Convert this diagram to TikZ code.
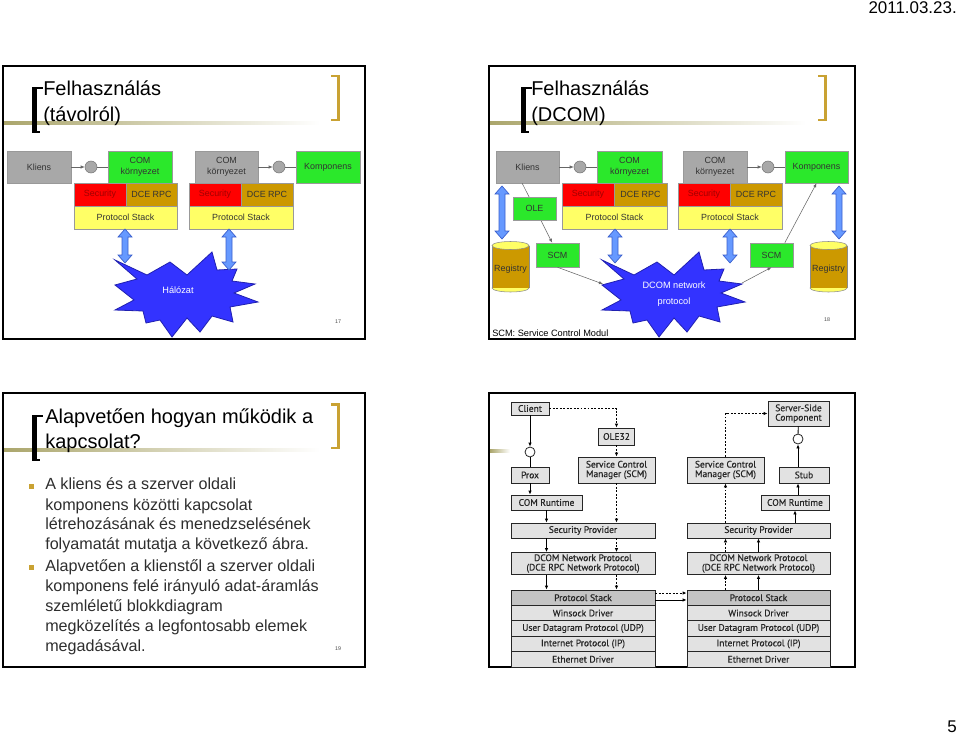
\documentclass[tikz,border=0pt]{standalone}
\usepackage{fontspec}
\setmainfont{Liberation Sans}
\newfontfamily\diagfont[FakeBold=0.5]{PT Sans}
\usetikzlibrary{arrows.meta}
\definecolor{boxgray}{HTML}{A8A8A8}
\definecolor{comgreen}{HTML}{2BE82B}
\definecolor{secred}{HTML}{FF0000}
\definecolor{sectext}{HTML}{A00000}
\definecolor{dcegold}{HTML}{CC9900}
\definecolor{stackyellow}{HTML}{FFFF66}
\definecolor{arrowblue}{HTML}{6699FF}
\definecolor{arrowedge}{HTML}{3A5FCD}
\definecolor{burstblue}{HTML}{3333FF}
\definecolor{burstedge}{HTML}{2020B0}
\definecolor{titlegold}{HTML}{C9A233}
\definecolor{lineolive}{HTML}{ABA66C}
\definecolor{msgray}{HTML}{E2E2E2}
\definecolor{msdark}{HTML}{C4C4C4}
\newcommand{\titlebrackets}[3]{% left x, right x, top y
  \fill (#1,#3) rectangle ++(4.5,46);
  \fill (#1,#3) rectangle ++(11,2);
  \fill (#1,#3+46) rectangle ++(8,-2.5);
  \fill[titlegold] (#2,#3-12) rectangle ++(-3.5,46);
  \fill[titlegold] (#2,#3-12) rectangle ++(-9,2.5);
  \fill[titlegold] (#2,#3+34) rectangle ++(-9,-2.5);
}
\newcommand{\dblarrow}[3]{% x, top y, bottom y
  \filldraw[fill=arrowblue, draw=arrowedge, line width=0.5pt]
    (#1,#2) -- ++(7,8) -- ++(-4,0) -- (#1+3,#3-8) -- ++(4,0) -- (#1,#3)
    -- ++(-7,-8) -- ++(4,0) -- (#1-3,#2+8) -- ++(-4,0) -- cycle;
}
\newcommand{\registry}[2]{% name, x
  \filldraw[fill=stackyellow, draw=black!45] (#2,288) ellipse [x radius=18.5, y radius=4];
  \fill[dcegold] (#2-18.5,245.5) rectangle (#2+18.5,288);
  \draw[black!45] (#2-18.5,245.5) -- (#2-18.5,288) (#2+18.5,245.5) -- (#2+18.5,288);
  \filldraw[fill=stackyellow, draw=black!45] (#2,245.5) ellipse [x radius=18.5, y radius=4];
  \node[boxtext] (#1) at (#2,269) {Registry};
}
\tikzset{
slide frame/.style={draw=black, line width=1.1pt},
title rule/.style={left color=lineolive, right color=white},
title/.style={anchor=base west, inner sep=0pt, font=\fontsize{15}{18}\selectfont},
wh/.style 2 args={minimum width=#1*0.75pt, minimum height=#2*0.75pt},
boxtext/.style={inner sep=0pt, align=center, text=black!80, font=\fontsize{6.7}{8.2}\selectfont},
box/.style={boxtext, draw=black!40, line width=0.4pt},
graybox/.style={box, fill=boxgray},
greenbox/.style={box, fill=comgreen},
secbox/.style={box, fill=secred, text=sectext},
dcebox/.style={box, fill=dcegold},
stackbox/.style={box, fill=stackyellow},
iface/.style={circle, draw=black!55, fill=boxgray, minimum size=12*0.75pt, inner sep=0pt},
thin line/.style={draw=black!60, line width=0.4pt},
thin arrow/.style={thin line, -{Latex[length=3pt,width=2.4pt]}},
burst text/.style={inner sep=0pt, align=center, text=white, font=\fontsize{6.9}{12}\selectfont},
pagenum/.style={inner sep=0pt, font=\fontsize{4}{5}\selectfont, text=black!70},
bullet line/.style={anchor=base west, inner sep=0pt, text=black!82, font=\fontsize{12.1}{14}\selectfont},
bullet mark/.style={fill=titlegold, minimum size=5*0.75pt, inner sep=0pt},
msbox/.style={draw=black!85, line width=0.6pt, fill=msgray, inner sep=0pt, align=center,
  text=black!85, font=\diagfont\fontsize{7.1}{7.1}\selectfont},
msport/.style={circle, draw=black!85, line width=0.6pt, fill=white, minimum size=10*0.75pt, inner sep=0pt},
msline/.style={draw=black, line width=0.65pt},
msarrow/.style={msline, -{Latex[length=3pt,width=2.6pt]}},
msdots/.style={msarrow, dash pattern=on 1.4pt off 1.2pt},
burst/.pic={
  \filldraw[fill=burstblue, draw=burstedge, line width=0.6pt]
    (-71,-34) -- (-39,-19) -- (-16,-32) -- (1,-19) -- (26,-42) -- (31,-24)
    -- (51,-25) -- (46,-13) -- (69,-10) -- (48,-1) -- (72,8) -- (44,13)
    -- (47,28) -- (26,22) -- (14,38) -- (1,24) -- (-14,43) -- (-26,26)
    -- (-40,29) -- (-43,17) -- (-71,16) -- (-52,6) -- (-71,-9) -- (-49,-15) -- cycle;
},
}
\begin{document}
\begin{tikzpicture}[x=0.75pt,y=-0.75pt]
\useasboundingbox (0,0) rectangle (960,735);
\fill[white] (0,0) rectangle (960,735);
\node[anchor=base east, inner sep=0pt, font=\fontsize{12.7}{14}\selectfont] (date) at (957,14) {2011.03.23.};
\node[anchor=base east, inner sep=0pt, font=\fontsize{12.7}{14}\selectfont] (page) at (957,732) {5};

% slide 17
\draw[slide frame] (3,66) rectangle (365,339);
\shade[title rule] (4,121.5) rectangle (320,124.5);
\titlebrackets{32}{340}{87}
\node[title] (t17a) at (43,95) {Felhasználás};
\node[title] (t17b) at (43,121) {(távolról)};
\node[graybox, wh={64}{32}] (kliens17) at (39,167) {Kliens};
\node[iface] (if17a) at (91,167) {};
\node[greenbox, wh={64}{32}] (com17a) at (140,167) {COM\\környezet};
\node[secbox, wh={52}{23}] (sec17a) at (100,194.5) {Security};
\node[dcebox, wh={51}{23}] (dce17a) at (151.5,194.5) {DCE RPC};
\node[stackbox, wh={103}{23}] (ps17a) at (125.5,217.5) {Protocol Stack};
\node[graybox, wh={63}{32}] (com17b) at (226.5,167) {COM\\környezet};
\node[iface] (if17b) at (279,167) {};
\node[greenbox, wh={64}{32}] (komp17) at (328,167) {Komponens};
\node[secbox, wh={52}{23}] (sec17b) at (215,194.5) {Security};
\node[dcebox, wh={52}{23}] (dce17b) at (267,194.5) {DCE RPC};
\node[stackbox, wh={104}{23}] (ps17b) at (241,217.5) {Protocol Stack};
\draw[thin arrow] (kliens17) -- (if17a);
\draw[thin line] (if17a) -- (com17a);
\draw[thin arrow] (com17b) -- (if17b);
\draw[thin line] (if17b) -- (komp17);
\pic at (186,294) {burst};
\node[burst text] (net17) at (178,290) {Hálózat};
\dblarrow{125}{229}{263}
\dblarrow{229}{229}{270}
\node[pagenum] (n17) at (338,322) {17};

% slide 18
\draw[slide frame] (489,66) rectangle (855,339);
\shade[title rule] (490,121.5) rectangle (806,124.5);
\titlebrackets{521}{827}{87}
\node[title] (t18a) at (531,95) {Felhasználás};
\node[title] (t18b) at (531,121) {(DCOM)};
\node[graybox, wh={63}{32}] (kliens18) at (527.5,167) {Kliens};
\node[greenbox, wh={43}{24}] (scm18a) at (557.5,255) {SCM};
\node[greenbox, wh={43}{24}] (scm18b) at (771.5,255) {SCM};
\draw[thin arrow] ([xshift=-4pt]kliens18.south) -- ([xshift=-4pt]scm18a.north);
\node[greenbox, wh={43}{23}] (ole18) at (534.5,208.5) {OLE};
\node[iface] (if18a) at (580,167) {};
\node[greenbox, wh={65}{32}] (com18a) at (629.5,167) {COM\\környezet};
\node[secbox, wh={52}{23}] (sec18a) at (588,194.5) {Security};
\node[dcebox, wh={53}{23}] (dce18a) at (640.5,194.5) {DCE RPC};
\node[stackbox, wh={105}{23}] (ps18a) at (614.5,217.5) {Protocol Stack};
\node[graybox, wh={64}{32}] (com18b) at (715,167) {COM\\környezet};
\node[iface] (if18b) at (768,167) {};
\node[greenbox, wh={63}{32}] (komp18) at (816.5,167) {Komponens};
\node[secbox, wh={52}{23}] (sec18b) at (704,194.5) {Security};
\node[dcebox, wh={52}{23}] (dce18b) at (756,194.5) {DCE RPC};
\node[stackbox, wh={104}{23}] (ps18b) at (730,217.5) {Protocol Stack};
\draw[thin arrow] (kliens18) -- (if18a);
\draw[thin line] (if18a) -- (com18a);
\draw[thin arrow] (com18b) -- (if18b);
\draw[thin line] (if18b) -- (komp18);
\registry{reg18a}{510.5}
\registry{reg18b}{828.5}
\pic at (673,294) {burst};
\node[burst text] (net18) at (674,294) {DCOM network\\protocol};
\coordinate (in18) at (603,284);
\coordinate (out18) at (742,283);
\draw[thin arrow] (scm18a.south) -- (in18);
\draw[thin arrow] (out18) -- (scm18b.south);
\draw[thin arrow] ([xshift=10pt]scm18b.north) -- (komp18.south);
\dblarrow{502}{186}{239}
\dblarrow{839}{186}{239}
\dblarrow{615}{229}{263}
\dblarrow{730}{229}{263}
\node[anchor=base west, inner sep=0pt, font=\fontsize{6.9}{8}\selectfont] (scmnote) at (492,336) {SCM: Service Control Modul};
\node[pagenum] (n18) at (827,320) {18};

% slide 19
\draw[slide frame] (3,393) rectangle (365,667);
\shade[title rule] (4,448.5) rectangle (320,451.5);
\titlebrackets{32}{340}{415}
\node[title] (t19a) at (45,423) {Alapvetően hogyan működik a};
\node[title] (t19b) at (45,448) {kapcsolat?};
\foreach \yy in {486,567}
  \node[bullet mark] (mark\yy) at (31,\yy) {};
\foreach \yy/\txt in {489/A kliens és a szerver oldali,510/komponens közötti kapcsolat,
    529/létrehozásának és menedzselésének,549/folyamatát mutatja a következő ábra.,
    571/Alapvetően a klienstől a szerver oldali,591/komponens felé irányuló adat-áramlás,
    611/szemléletű blokkdiagram,631/megközelítés a legfontosabb elemek,651/megadásával.}
  \node[bullet line] (line\yy) at (45,\yy) {\txt};
\node[pagenum] (n19) at (338,649) {19};

% slide 20
\draw[slide frame] (489,393) rectangle (855,667);
\shade[title rule] (490,449.5) rectangle (510,452);
\node[msbox, wh={38}{13}] (client) at (530,408.5) {Client};
\node[msbox, wh={61}{25}] (ssc) at (798.5,413.5) {Server-Side\\Component};
\node[msbox, wh={36}{17}] (ole32) at (616.5,436.5) {OLE32};
\node[msport] (port1) at (530,452) {};
\node[msport] (port2) at (798,439) {};
\node[msbox, wh={38}{16}] (prox) at (530,475) {Prox};
\node[msbox, wh={77}{26}] (scmL) at (616.5,470) {Service Control\\Manager (SCM)};
\node[msbox, wh={77}{26}] (scmR) at (725.5,470) {Service Control\\Manager (SCM)};
\node[msbox, wh={50}{16}] (stub) at (804,475) {Stub};
\node[msbox, wh={71}{15}] (comrtL) at (546.5,502.5) {COM Runtime};
\node[msbox, wh={68}{15}] (comrtR) at (795,502.5) {COM Runtime};
\node[msbox, wh={144}{15}] (secpL) at (583,530.5) {Security Provider};
\node[msbox, wh={143}{15}] (secpR) at (758.5,530.5) {Security Provider};
\node[msbox, wh={144}{22}] (dcomL) at (583,563.5) {DCOM Network Protocol\\(DCE RPC Network Protocol)};
\node[msbox, wh={143}{22}] (dcomR) at (758.5,563.5) {DCOM Network Protocol\\(DCE RPC Network Protocol)};
\foreach \i/\txt/\tone in {0/Protocol Stack/msdark,1/Winsock Driver/msgray,
    2/User Datagram Protocol (UDP)/msgray,3/Internet Protocol (IP)/msgray,4/Ethernet Driver/msgray} {
  \node[msbox, fill=\tone, wh={144}{15.4}] (stkL\i) at (583,597.7+15.4*\i) {\txt};
  \node[msbox, fill=\tone, wh={143}{15.4}] (stkR\i) at (758.5,597.7+15.4*\i) {\txt};
}
\draw[msarrow] (client) -- (port1);
\draw[msline] (port1) -- (prox);
\draw[msarrow] (prox) -- (prox |- comrtL.north);
\draw[msarrow] (comrtL) -- (comrtL |- secpL.north);
\draw[msarrow] (secpL.south -| comrtL) -- (dcomL.north -| comrtL);
\draw[msarrow] (dcomL.south -| comrtL) -- (stkL0.north -| comrtL);
\draw[msdots] (client.east) -| (ole32.north);
\draw[msdots] (ole32) -- (scmL);
\draw[msdots] (scmL.south) -- (scmL |- secpL.north);
\draw[msdots] (secpL.south -| scmL) -- (dcomL.north -| scmL);
\draw[msdots] (dcomL.south -| scmL) -- (stkL0.north -| scmL);
\draw[msdots] ([yshift=3.5pt]stkL0.east) -- ([yshift=3.5pt]stkR0.west);
\draw[msarrow] ([yshift=-1.7pt]stkL0.east) -- ([yshift=-1.7pt]stkR0.west);
\draw[msdots] (stkR0.north -| scmR) -- (dcomR.south -| scmR);
\draw[msdots] (dcomR.north -| scmR) -- (secpR.south -| scmR);
\draw[msdots] (secpR.north -| scmR) -- (scmR.south);
\draw[msdots] (scmR.north) |- (ssc.west);
\draw[msarrow] (stkR0.north -| secpR) -- (dcomR.south -| secpR);
\draw[msarrow] (dcomR.north) -- (secpR.south);
\draw[msarrow] (secpR.north -| comrtR) -- (comrtR.south);
\draw[msarrow] (comrtR.north -| port2) -- (stub.south -| port2);
\draw[msarrow] (stub.north -| port2) -- (port2.south);
\draw[msline] (port2) -- (ssc);
\end{tikzpicture}
\end{document}
